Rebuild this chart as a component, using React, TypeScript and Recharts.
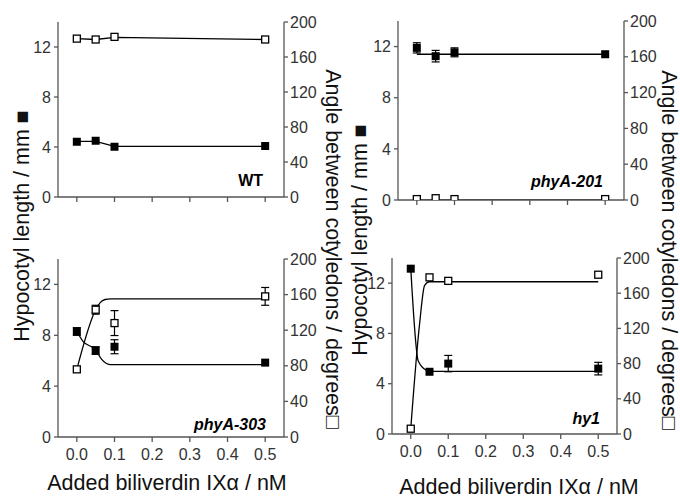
import { ComposedChart, Line, Scatter, ErrorBar, XAxis, YAxis } from "recharts";

// biliverdin concentrations (nM)
const conc = [0, 0.05, 0.1, 0.5];
const xTicks = [0, 0.1, 0.2, 0.3, 0.4, 0.5];
const lengthTicks = [0, 4, 8, 12];
const angleTicks = [0, 40, 80, 120, 160, 200];

// WT
const wtLength = [4.42, 4.5, 4.02, 4.08];
const wtAngle = [181, 180, 183, 180];
const wtLengthFitX = [0, 0.05, 0.1, 0.5];
const wtLengthFitY = [4.45, 4.45, 4.05, 4.05];
const wtAngleFitX = [0, 0.05, 0.1, 0.5];
const wtAngleFitY = [181, 180, 182.5, 180];

// phyA-201
const p201Length = [11.9, 11.25, 11.55, 11.4];
const p201LengthErr = [0.4, 0.45, 0.35, null];
const p201Angle = [1, 2, 1, 1];
const p201LengthFitX = [0, 0.5];
const p201LengthFitY = [11.4, 11.4];
const p201AngleFitX = [0, 0.5];
const p201AngleFitY = [0, 0];

// phyA-303
const p303Length = [8.3, 6.8, 7.1, 5.85];
const p303LengthErr = [0.3, 0.3, 0.55, null];
const p303Angle = [76, 143, 128, 158];
const p303AngleErr = [null, 5, 14, 10];
const p303LengthFitX = [0, 0.017, 0.05, 0.066, 0.088, 0.5];
const p303LengthFitY = [8.3, 7.5, 6.85, 6.1, 5.7, 5.7];
const p303AngleFitX = [0, 0.05, 0.062, 0.075, 0.09, 0.5];
const p303AngleFitY = [76, 143, 151, 154.5, 155.3, 155.3];

// hy1
const hy1Length = [13.15, 4.95, 5.6, 5.2];
const hy1LengthErr = [null, null, 0.65, 0.5];
const hy1Angle = [6, 178, 174, 181];
const hy1LengthFitX = [0, 0.02, 0.042, 0.05, 0.5];
const hy1LengthFitY = [13.2, 5.8, 5.05, 4.98, 4.98];
const hy1AngleFitX = [0, 0.024, 0.037, 0.05, 0.5];
const hy1AngleFitY = [6, 127, 169, 173, 173];

const FONT = '"Liberation Sans", Arial, Helvetica, sans-serif';
const AXIS = "#555";
const TICK = { fill: "#333", fontSize: 16, fontFamily: FONT };

type Pt = { x: number; y: number; err: number | null };

function points(ys: number[], errs?: (number | null)[]): Pt[] {
  return conc.map((x, i) => ({ x, y: ys[i], err: errs ? errs[i] : null }));
}

function fit(xs: number[], ys: number[]) {
  return xs.map((x, i) => ({ x, y: ys[i] }));
}

const filledSquare = (p: any) => (
  <rect x={p.cx - 4} y={p.cy - 4} width={8} height={8} fill="#000" />
);
const openSquare = (p: any) => (
  <rect x={p.cx - 3.5} y={p.cy - 3.5} width={7} height={7} fill="#fff" stroke="#000" strokeWidth={1.3} />
);

interface PanelProps {
  left: number; // x of left axis
  top: number; // y of axis top
  plotW: number;
  plotH: number;
  showXLabels: boolean;
  length: Pt[];
  angle: Pt[];
  lengthFit: { x: number; y: number }[];
  angleFit: { x: number; y: number }[];
  curve: "linear" | "monotone";
}

function Panel({ left, top, plotW, plotH, showXLabels, length, angle, lengthFit, angleFit, curve }: PanelProps) {
  return (
    <div style={{ position: "absolute", left: left - 50, top: top - 10 }}>
      <ComposedChart width={plotW + 100} height={plotH + 50} margin={{ top: 10, right: 0, bottom: 0, left: 0 }}>
        <XAxis
          type="number"
          dataKey="x"
          domain={[-0.05, 0.55]}
          ticks={xTicks}
          allowDataOverflow
          height={40}
          tickSize={5}
          tickMargin={7}
          stroke={AXIS}
          strokeWidth={1.3}
          tick={TICK}
          tickFormatter={(v: number) => (showXLabels ? v.toFixed(1) : "")}
        />
        <YAxis
          yAxisId="len"
          dataKey="y"
          domain={[0, 14]}
          ticks={lengthTicks}
          allowDataOverflow
          width={50}
          tickSize={4}
          tickMargin={3}
          stroke={AXIS}
          strokeWidth={1.3}
          tick={TICK}
        />
        <YAxis
          yAxisId="ang"
          dataKey="y"
          orientation="right"
          domain={[0, 200]}
          ticks={angleTicks}
          allowDataOverflow
          width={50}
          tickSize={4}
          tickMargin={2}
          stroke={AXIS}
          strokeWidth={1.3}
          tick={TICK}
        />
        <Line yAxisId="ang" data={angleFit} dataKey="y" type={curve} stroke="#000" strokeWidth={1.3} dot={false} activeDot={false} isAnimationActive={false} />
        <Line yAxisId="len" data={lengthFit} dataKey="y" type={curve} stroke="#000" strokeWidth={1.3} dot={false} activeDot={false} isAnimationActive={false} />
        <Scatter yAxisId="ang" data={angle} dataKey="y" shape={openSquare} isAnimationActive={false}>
          <ErrorBar dataKey="err" direction="y" width={4} stroke="#000" strokeWidth={1.2} />
        </Scatter>
        <Scatter yAxisId="len" data={length} dataKey="y" shape={filledSquare} isAnimationActive={false}>
          <ErrorBar dataKey="err" direction="y" width={4} stroke="#000" strokeWidth={1.2} />
        </Scatter>
      </ComposedChart>
    </div>
  );
}

export default function App() {
  const lenTitle = "Hypocotyl length / mm \u25A0";
  const angTitle = "Angle between cotyledons / degrees\u25A1";
  const xTitle = "Added biliverdin IX\u03B1 / nM";
  const titleStyle = { fontFamily: FONT, fontSize: 21.5, fill: "#111" };
  const tagStyle = { fontFamily: FONT, fontSize: 16, fontWeight: 700, fill: "#000" };
  return (
    <div style={{ position: "absolute", left: 0, top: 0, width: 680, height: 496, background: "#fff", overflow: "hidden" }}>
      <Panel left={58} top={22} plotW={226} plotH={175} showXLabels={false}
        length={points(wtLength)} angle={points(wtAngle)}
        lengthFit={fit(wtLengthFitX, wtLengthFitY)} angleFit={fit(wtAngleFitX, wtAngleFitY)} curve="linear" />
      <Panel left={398} top={21} plotW={226} plotH={179} showXLabels={false}
        length={points(p201Length, p201LengthErr)} angle={points(p201Angle)}
        lengthFit={fit(p201LengthFitX, p201LengthFitY)} angleFit={fit(p201AngleFitX, p201AngleFitY)} curve="linear" />
      <Panel left={58} top={259} plotW={226} plotH={178} showXLabels
        length={points(p303Length, p303LengthErr)} angle={points(p303Angle, p303AngleErr)}
        lengthFit={fit(p303LengthFitX, p303LengthFitY)} angleFit={fit(p303AngleFitX, p303AngleFitY)} curve="monotone" />
      <Panel left={392} top={258} plotW={225} plotH={176} showXLabels
        length={points(hy1Length, hy1LengthErr)} angle={points(hy1Angle)}
        lengthFit={fit(hy1LengthFitX, hy1LengthFitY)} angleFit={fit(hy1AngleFitX, hy1AngleFitY)} curve="monotone" />
      <svg width={680} height={496} style={{ position: "absolute", left: 0, top: 0, pointerEvents: "none" }}>
        <text x={263} y={186} textAnchor="end" style={tagStyle}>WT</text>
        <text x={603} y={187} textAnchor="end" style={{ ...tagStyle, fontStyle: "italic" }}>phyA-201</text>
        <text x={266} y={430} textAnchor="end" style={{ ...tagStyle, fontStyle: "italic" }}>phyA-303</text>
        <text x={600} y={424} textAnchor="end" style={{ ...tagStyle, fontStyle: "italic" }}>hy1</text>
        <text transform="translate(22,226) rotate(-90)" textAnchor="middle" dominantBaseline="central" style={titleStyle}>{lenTitle}</text>
        <text transform="translate(333,249) rotate(90)" textAnchor="middle" dominantBaseline="central" style={titleStyle}>{angTitle}</text>
        <text transform="translate(360,240) rotate(-90)" textAnchor="middle" dominantBaseline="central" style={titleStyle}>{lenTitle}</text>
        <text transform="translate(669,250) rotate(90)" textAnchor="middle" dominantBaseline="central" style={titleStyle}>{angTitle}</text>
        <text x={167} y={490} textAnchor="middle" style={titleStyle}>{xTitle}</text>
        <text x={519} y={494} textAnchor="middle" style={titleStyle}>{xTitle}</text>
      </svg>
    </div>
  );
}
